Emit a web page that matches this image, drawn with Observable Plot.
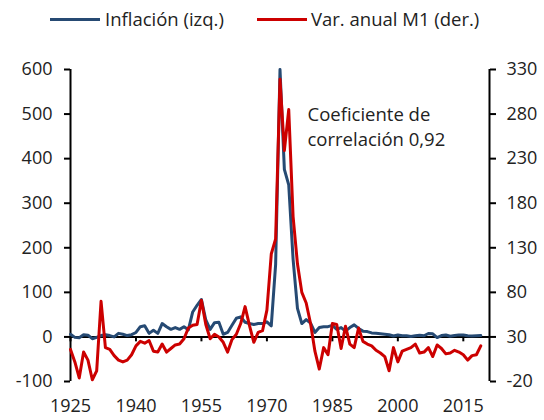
<!DOCTYPE html>
<html>
<head>
<meta charset="utf-8">
<script src="https://cdn.jsdelivr.net/npm/d3@7"></script>
<script src="https://cdn.jsdelivr.net/npm/@observablehq/plot@0.6"></script>
<style>
  html, body { margin: 0; padding: 0; background: #fff; overflow: hidden; }
  body { width: 544px; height: 420px; font-family: "Open Sans", sans-serif; color: #222; }
  #legend { position: relative; height: 38px; width: 544px; font-size: 18.5px; }
  .sw { position: absolute; top: 18px; width: 50px; height: 3px; }
  .lb { position: absolute; top: 7px; line-height: 24px; white-space: nowrap; }
</style>
</head>
<body>
<div id="legend"></div>
<div id="chart"></div>
<script>
// ---- data ----
const years = [1925,1926,1927,1928,1929,1930,1931,1932,1933,1934,1935,1936,1937,1938,1939,
  1940,1941,1942,1943,1944,1945,1946,1947,1948,1949,1950,1951,1952,1953,1954,1955,1956,1957,1958,1959,
  1960,1961,1962,1963,1964,1965,1966,1967,1968,1969,1970,1971,1972,1973,1974,1975,1976,1977,1978,1979,
  1980,1981,1982,1983,1984,1985,1986,1987,1988,1989,1990,1991,1992,1993,1994,1995,1996,1997,1998,1999,
  2000,2001,2002,2003,2004,2005,2006,2007,2008,2009,2010,2011,2012,2013,2014,2015,2016,2017,2018,2019];

// Inflación (%), left axis
const inflation = [6,-1,-2,5,4,-4,-1,3,5,3,0,8,6,3,5,
  10,23,25,8,15,8,30,23,17,21,17,23,16,56,71,84,38,17,32,33,
  6,10,26,42,45,33,30,28,30,30,34,25,163,600,376,341,174,64,30,39,
  31,10,21,23,23,26,17,21,13,21,27,19,13,12,9,8,7,6,5,2,
  4.5,2.6,2.8,1.1,2.4,3.7,2.6,7.8,7.1,-1.4,3,4.4,1.5,3,4.6,4.4,2.7,2.3,2.6,3];

// Var. anual M1 (%), right axis
const m1 = [16,2,-16,13,4,-18,-8,70,18,16,9,4,2,4,10,
  20,25,23,26,14,13,22,13,17,21,22,28,40,43,44,71,44,28,33,30,
  24,13,27,33,45,64,43,24,35,37,60,123,140,319,239,285,165,112,80,68,
  45,14,-6,18,10,45,44,17,42,22,18,40,25,22,20,15,12,8,-8,18,
  2,14,16,18,22,12,13,18,8,21,17,11,12,15,13,10,4,9,10,20];

const leftTicks = [-100, 0, 100, 200, 300, 400, 500, 600];
const rightTicks = [-20, 30, 80, 130, 180, 230, 280, 330];
const xTicks = [1925, 1940, 1955, 1970, 1985, 2000, 2015];
const xDomain = [1925, 2021];
const seriesNames = ["Inflación (izq.)", "Var. anual M1 (der.)"];
const seriesColors = ["#264a73", "#cc0000"];
const noteLines = ["Coeficiente de", "correlación 0,92"];
const noteAt = {year: 1979.3, value: 474};

// right axis value r corresponds to left value (r - 30) * 2
const toLeft = r => (r - 30) * 2;
const fmt = v => (v < 0 ? "-" + Math.abs(v) : String(v));

const infData = years.map((y, i) => ({year: y, v: inflation[i]}));
const m1Data = years.map((y, i) => ({year: y, v: toLeft(m1[i])}));

// ---- legend ----
const legend = document.getElementById("legend");
const legendPos = [{sw: 50, tx: 105}, {sw: 257, tx: 311}];
seriesNames.forEach((name, i) => {
  const s = document.createElement("div");
  s.className = "sw"; s.style.left = legendPos[i].sw + "px"; s.style.background = seriesColors[i];
  const t = document.createElement("div");
  t.className = "lb"; t.style.left = legendPos[i].tx + "px"; t.textContent = name;
  legend.append(s, t);
});

// ---- chart ----
const chart = Plot.plot({
  width: 544,
  height: 382,
  marginTop: 31,
  marginBottom: 39,
  marginLeft: 70,
  marginRight: 55,
  style: {fontFamily: "'Open Sans', sans-serif", fontSize: "18px", color: "#222", background: "#fff", overflow: "visible"},
  x: {domain: xDomain},
  y: {domain: [-100, 600]},
  marks: [
    Plot.axisY({anchor: "left", ticks: leftTicks, tickSize: 6, tickPadding: 12, tickFormat: fmt, label: null, stroke: "#000", strokeWidth: 2}),
    Plot.axisY({anchor: "right", ticks: rightTicks.map(toLeft), tickSize: 6, tickPadding: 11,
      tickFormat: v => fmt(30 + v / 2), label: null, stroke: "#000", strokeWidth: 2}),
    Plot.axisX({anchor: "bottom", ticks: xTicks, tickSize: 0, tickPadding: 18, tickFormat: d => String(d), label: null}),
    Plot.ruleX([xDomain[0], xDomain[1]], {stroke: "#000", strokeWidth: 2}),
    Plot.ruleY([0], {stroke: "#000", strokeWidth: 2}),
    Plot.ruleX(xTicks, {x: d => d, y1: 0, y2: -11, stroke: "#000", strokeWidth: 2}),
    Plot.line(infData, {x: "year", y: "v", stroke: seriesColors[0], strokeWidth: 3, strokeLinejoin: "round"}),
    Plot.line(m1Data, {x: "year", y: "v", stroke: seriesColors[1], strokeWidth: 3, strokeLinejoin: "round"}),
    Plot.text([noteLines.join("\n")], {x: noteAt.year, y: noteAt.value, text: d => d, textAnchor: "start",
      lineAnchor: "middle", lineHeight: 1.32, fontSize: 18.5, fill: "#222"})
  ]
});
document.getElementById("chart").append(chart);
</script>
</body>
</html>
